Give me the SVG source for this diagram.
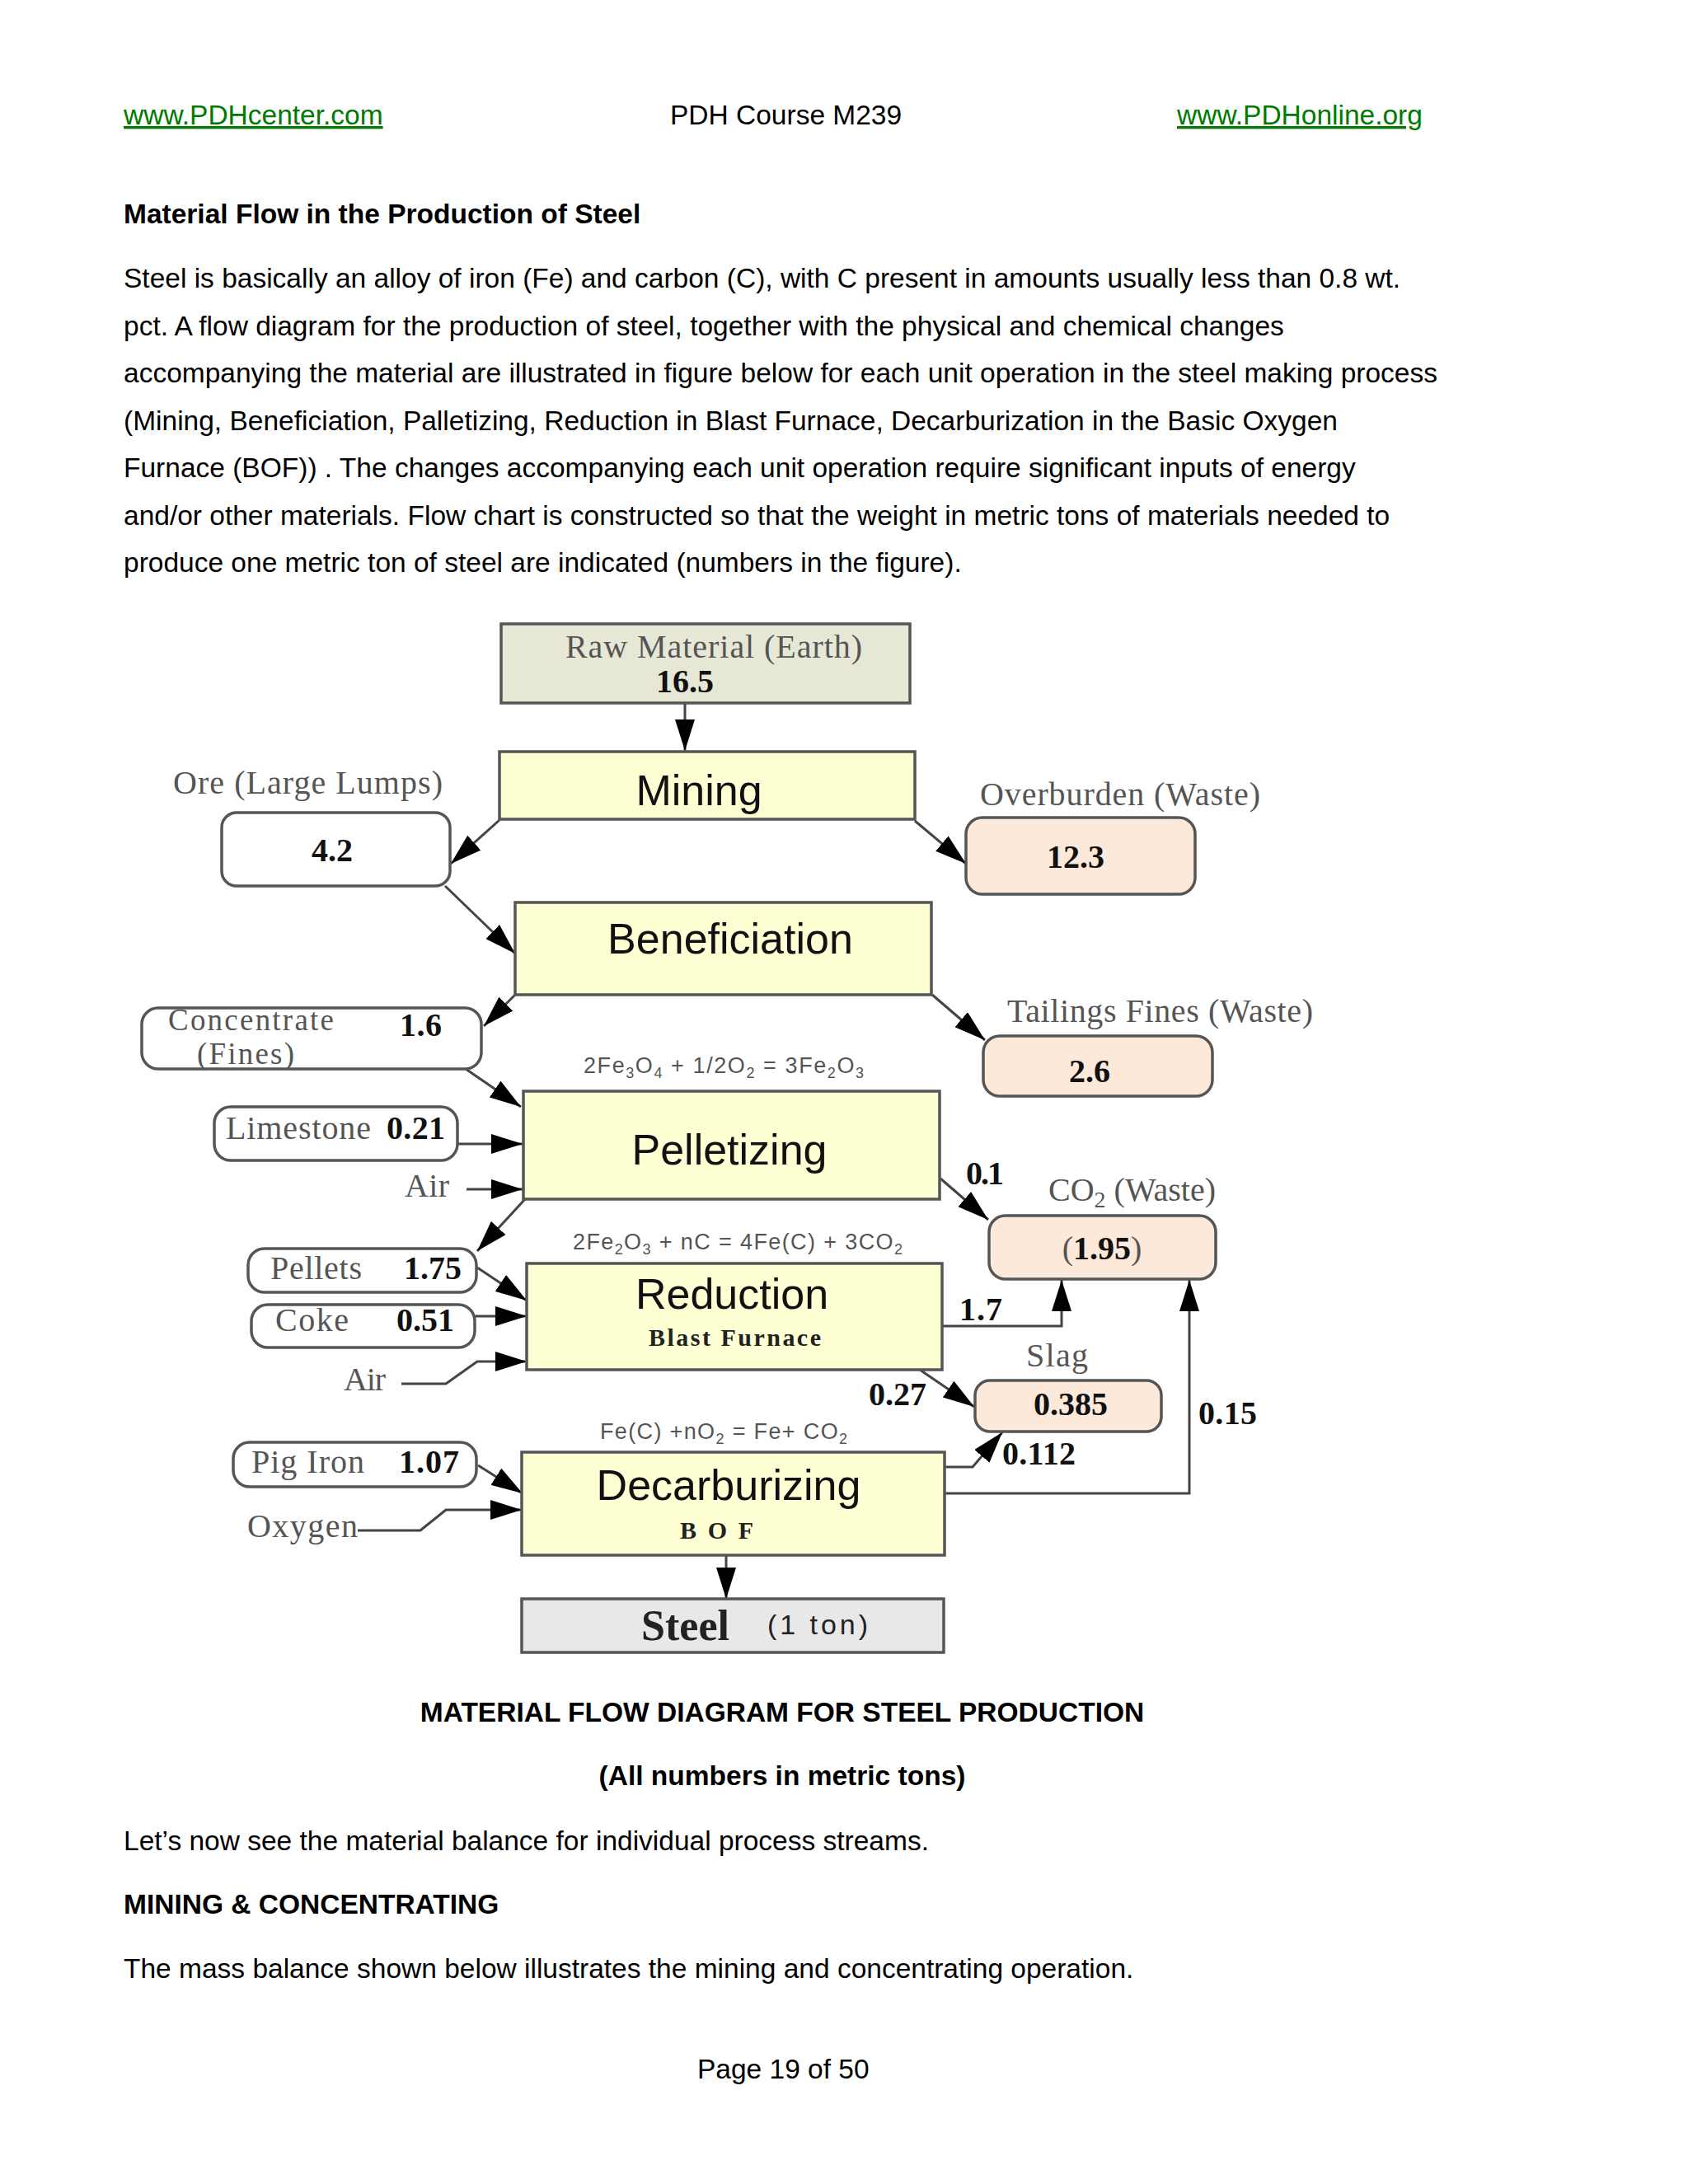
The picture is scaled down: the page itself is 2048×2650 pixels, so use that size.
<svg xmlns="http://www.w3.org/2000/svg" width="2048" height="2650" viewBox="0 0 2048 2650">
<style>
.box{stroke:#555;stroke-width:3.5}
.proc{fill:#ffffd4}
.raw{fill:#e6e8d5}
.waste{fill:#fde9d9}
.inp{fill:#fff}
.steelf{fill:#e8e8e8}
.lbl{font-family:"Liberation Serif","Times New Roman",serif;font-size:40px;fill:#555}
.num{font-family:"Liberation Serif","Times New Roman",serif;font-size:40px;font-weight:bold;fill:#111}
.ptxt{font-family:"Liberation Sans",Arial,sans-serif;font-size:52px;fill:#111;text-anchor:middle}
.eq{font-family:"Liberation Sans",Arial,sans-serif;font-size:27px;fill:#555}
.body{font-family:"Liberation Sans",Arial,sans-serif;font-size:33.5px;fill:#000}
.bold{font-weight:bold}
.link{fill:#007a00;text-decoration:underline}
.con{fill:none;stroke:#444;stroke-width:3;marker-end:url(#ah)}
</style>
<defs>
<marker id="ah" markerUnits="userSpaceOnUse" markerWidth="38" markerHeight="24" refX="38" refY="12" orient="auto">
<path d="M0,0 L38,12 L0,24 z" fill="#000"/>
</marker>
</defs>
<rect width="2048" height="2650" fill="#fff"/>

<g id="page-text">
<text class="body link" x="150" y="151">www.PDHcenter.com</text>
<text class="body" x="813" y="151">PDH Course M239</text>
<text class="body link" x="1428" y="151">www.PDHonline.org</text>
<text class="body bold" x="150" y="271">Material Flow in the Production of Steel</text>
<text class="body" x="150" y="349">Steel is basically an alloy of iron (Fe) and carbon (C), with C present in amounts usually less than 0.8 wt.</text>
<text class="body" x="150" y="406.5">pct. A flow diagram for the production of steel, together with the physical and chemical changes</text>
<text class="body" x="150" y="464">accompanying the material are illustrated in figure below for each unit operation in the steel making process</text>
<text class="body" x="150" y="521.5">(Mining, Beneficiation, Palletizing, Reduction in Blast Furnace, Decarburization in the Basic Oxygen</text>
<text class="body" x="150" y="579">Furnace (BOF)) . The changes accompanying each unit operation require significant inputs of energy</text>
<text class="body" x="150" y="636.5">and/or other materials. Flow chart is constructed so that the weight in metric tons of materials needed to</text>
<text class="body" x="150" y="694">produce one metric ton of steel are indicated (numbers in the figure).</text>
<text class="body bold" x="949" y="2089" text-anchor="middle">MATERIAL FLOW DIAGRAM FOR STEEL PRODUCTION</text>
<text class="body bold" x="949" y="2166" text-anchor="middle">(All numbers in metric tons)</text>
<text class="body" x="150" y="2245">Let’s now see the material balance for individual process streams.</text>
<text class="body bold" x="150" y="2322">MINING &amp; CONCENTRATING</text>
<text class="body" x="150" y="2400">The mass balance shown below illustrates the mining and concentrating operation.</text>
<text class="body" x="846" y="2522">Page 19 of 50</text>
</g>

<g id="connectors">
<path class="con" d="M831,853 L831,911"/>
<path class="con" d="M606,995 L547,1048"/>
<path class="con" d="M1110,996 L1172,1048"/>
<path class="con" d="M540,1075 L625,1157"/>
<path class="con" d="M625,1207 L587,1245"/>
<path class="con" d="M1131,1207 L1195,1262"/>
<path class="con" d="M565,1297 L632,1343"/>
<path class="con" d="M556,1388 L634,1388"/>
<path class="con" d="M566,1443 L634,1443"/>
<path class="con" d="M1141,1430 L1199,1480"/>
<path class="con" d="M637,1455 L579,1518"/>
<path class="con" d="M579,1538 L639,1578"/>
<path class="con" d="M577,1597 L639,1597"/>
<path class="con" d="M487,1679 L541,1679 L579,1652 L639,1652"/>
<path class="con" d="M1144,1609 L1288,1609 L1288,1553"/>
<path class="con" d="M1116,1662 L1182,1707"/>
<path class="con" d="M1147,1780 L1180,1780 L1216,1738"/>
<path class="con" d="M1147,1812 L1443,1812 L1443,1553"/>
<path class="con" d="M580,1778 L634,1812"/>
<path class="con" d="M434,1857 L510,1857 L541,1832 L633,1832"/>
<path class="con" d="M881,1887 L881,1940"/>
</g>

<g id="flow-labels">
<text class="num" x="1172" y="1437" textLength="46">0.1</text>
<text class="num" x="1164" y="1602" textLength="52">1.7</text>
<text class="num" x="1054" y="1705" textLength="70">0.27</text>
<text class="num" x="1216" y="1777" textLength="89">0.112</text>
<text class="num" x="1454" y="1728" textLength="71">0.15</text>
</g>

<g id="raw-material">
<rect class="box raw" x="608" y="757" width="496" height="96"/>
<text class="lbl" x="686" y="798" textLength="360">Raw Material (Earth)</text>
<text class="num" x="831" y="840" text-anchor="middle">16.5</text>
</g>

<g id="mining">
<rect class="box proc" x="606" y="912" width="504" height="82"/>
<text class="ptxt" x="848" y="977">Mining</text>
</g>

<g id="ore">
<text class="lbl" x="210" y="963" textLength="327">Ore (Large Lumps)</text>
<rect class="box inp" x="269" y="986" width="277" height="89" rx="18"/>
<text class="num" x="403" y="1045" text-anchor="middle">4.2</text>
</g>

<g id="overburden">
<text class="lbl" x="1189" y="977" textLength="340">Overburden (Waste)</text>
<rect class="box waste" x="1172" y="992" width="278" height="93" rx="20"/>
<text class="num" x="1305" y="1053" text-anchor="middle">12.3</text>
</g>

<g id="beneficiation">
<rect class="box proc" x="625" y="1095" width="505" height="112"/>
<text class="ptxt" x="886" y="1157">Beneficiation</text>
</g>

<g id="concentrate">
<rect class="box inp" x="172" y="1223" width="412" height="74" rx="20"/>
<text class="lbl" x="204" y="1250" textLength="201" style="font-size:37px">Concentrate</text>
<text class="lbl" x="239" y="1291" textLength="118" style="font-size:37px">(Fines)</text>
<text class="num" x="485" y="1257" textLength="51">1.6</text>
</g>

<g id="tailings">
<text class="lbl" x="1222" y="1240" textLength="371">Tailings Fines (Waste)</text>
<rect class="box waste" x="1193" y="1257" width="278" height="73" rx="20"/>
<text class="num" x="1322" y="1313" text-anchor="middle">2.6</text>
</g>

<g id="pelletizing">
<text class="eq" x="708" y="1302" textLength="340">2Fe<tspan font-size="18" dy="6">3</tspan><tspan dy="-6">O</tspan><tspan font-size="18" dy="6">4</tspan><tspan dy="-6"> + 1/2O</tspan><tspan font-size="18" dy="6">2</tspan><tspan dy="-6"> = 3Fe</tspan><tspan font-size="18" dy="6">2</tspan><tspan dy="-6">O</tspan><tspan font-size="18" dy="6">3</tspan></text>
<rect class="box proc" x="635" y="1324" width="505" height="131"/>
<text class="ptxt" x="885" y="1413">Pelletizing</text>
</g>

<g id="limestone">
<rect class="box inp" x="260" y="1343" width="295" height="65" rx="20"/>
<text class="lbl" x="274" y="1382" textLength="176">Limestone</text>
<text class="num" x="469" y="1382" textLength="71">0.21</text>
</g>

<g id="air-pelletizing">
<text class="lbl" x="491" y="1452" textLength="54">Air</text>
</g>

<g id="co2">
<text class="lbl" x="1272" y="1457" textLength="203">CO<tspan font-size="28" dy="8">2</tspan><tspan dy="-8"> (Waste)</tspan></text>
<rect class="box waste" x="1200" y="1475" width="275" height="77" rx="20"/>
<text class="num" x="1337" y="1528" text-anchor="middle"><tspan font-weight="normal" fill="#555">(</tspan>1.95<tspan font-weight="normal" fill="#555">)</tspan></text>
</g>

<g id="pellets">
<rect class="box inp" x="301" y="1515" width="277" height="53" rx="20"/>
<text class="lbl" x="328" y="1552" textLength="111">Pellets</text>
<text class="num" x="490" y="1552" textLength="70">1.75</text>
</g>

<g id="coke">
<rect class="box inp" x="305" y="1583" width="271" height="52" rx="20"/>
<text class="lbl" x="334" y="1615" textLength="89">Coke</text>
<text class="num" x="481" y="1615" textLength="70">0.51</text>
</g>

<g id="air-reduction">
<text class="lbl" x="417" y="1687" textLength="51">Air</text>
</g>

<g id="reduction">
<text class="eq" x="695" y="1516" textLength="400">2Fe<tspan font-size="18" dy="6">2</tspan><tspan dy="-6">O</tspan><tspan font-size="18" dy="6">3</tspan><tspan dy="-6"> + nC = 4Fe(C) + 3CO</tspan><tspan font-size="18" dy="6">2</tspan></text>
<rect class="box proc" x="639" y="1533" width="504" height="129"/>
<text class="ptxt" x="888" y="1588">Reduction</text>
<text class="num" x="787" y="1633" style="font-size:30px;fill:#222" textLength="209">Blast Furnace</text>
</g>

<g id="slag">
<text class="lbl" x="1245" y="1658" textLength="75">Slag</text>
<rect class="box waste" x="1183" y="1675" width="226" height="62" rx="18"/>
<text class="num" x="1299" y="1717" text-anchor="middle">0.385</text>
</g>

<g id="pig-iron">
<rect class="box inp" x="283" y="1750" width="295" height="54" rx="20"/>
<text class="lbl" x="305" y="1787" textLength="137">Pig Iron</text>
<text class="num" x="484" y="1787" textLength="73">1.07</text>
</g>

<g id="oxygen">
<text class="lbl" x="300" y="1865" textLength="134">Oxygen</text>
</g>

<g id="decarburizing">
<text class="eq" x="728" y="1746" textLength="300">Fe(C) +nO<tspan font-size="18" dy="6">2</tspan><tspan dy="-6"> = Fe+ CO</tspan><tspan font-size="18" dy="6">2</tspan></text>
<rect class="box proc" x="633" y="1762" width="513" height="125"/>
<text class="ptxt" x="884" y="1820">Decarburizing</text>
<text class="num" x="825" y="1867" style="font-size:30px;fill:#222" textLength="89">B O F</text>
</g>

<g id="steel">
<rect class="box steelf" x="633" y="1940" width="512" height="65"/>
<text class="num" x="778" y="1990" style="font-size:52px;fill:#222" textLength="107">Steel</text>
<text x="931" y="1983" font-family="Liberation Sans,Arial,sans-serif" font-size="34" fill="#222" textLength="122">(1 ton)</text>
</g>
</svg>
